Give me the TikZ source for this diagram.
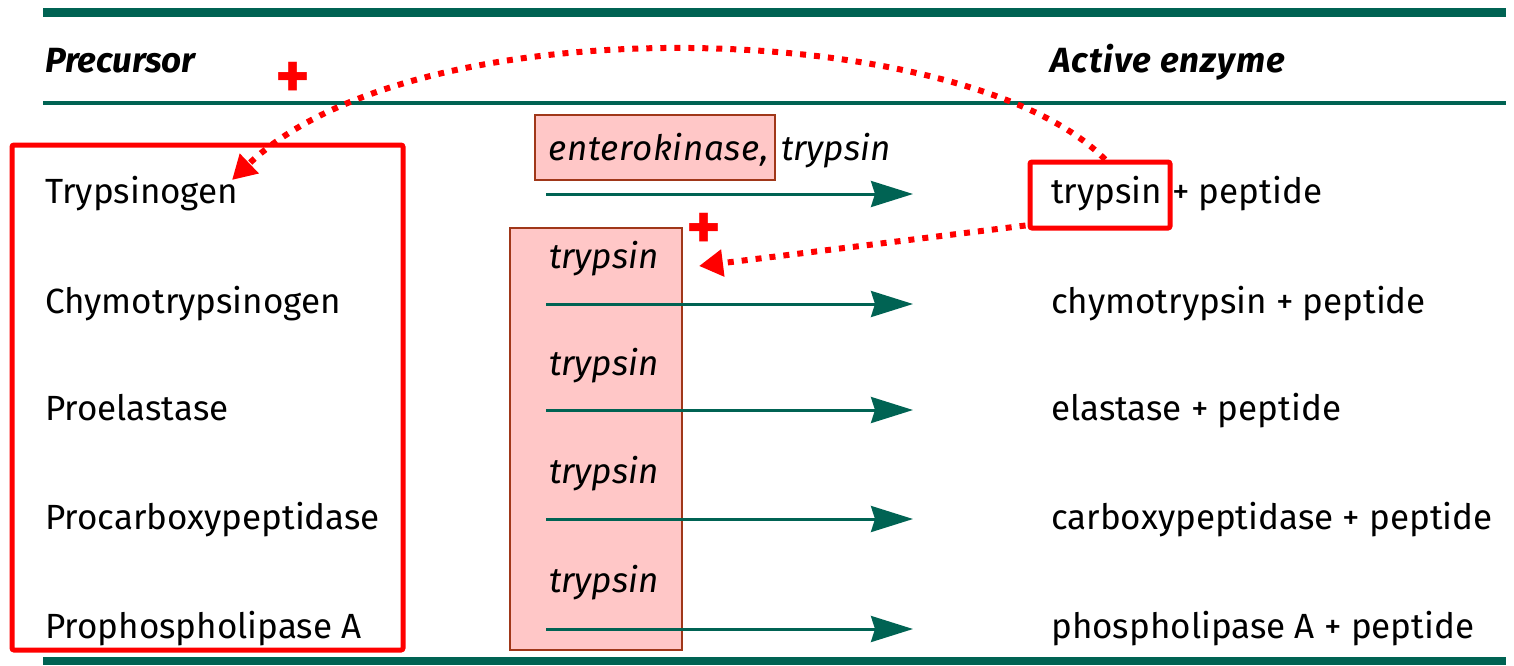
\documentclass[tikz,border=0pt]{standalone}
\usepackage{fontspec}
\setmainfont{Fira Sans}
\usetikzlibrary{arrows.meta}
\definecolor{teal}{RGB}{0,99,83}
\definecolor{pinkfill}{RGB}{255,199,199}
\definecolor{brownline}{RGB}{160,55,25}
\definecolor{redline}{RGB}{255,0,0}
\tikzset{
  txt/.style={anchor=base west, inner sep=0pt, font=\fontsize{35}{40}\selectfont},
  itxt/.style={anchor=base west, inner sep=0pt, font=\fontsize{35}{40}\selectfont\itshape},
  head/.style={anchor=base west, inner sep=0pt, font=\fontsize{35}{40}\selectfont\bfseries\itshape},
  rule/.style={draw=teal, line width=#1},
  react/.style={draw=teal, line width=3pt, -{Stealth[length=42pt,width=26pt,inset=4pt]}},
  pinkbox/.style={draw=brownline, fill=pinkfill, line width=2.5pt, inner sep=0pt},
  redbox/.style={draw=redline, line width=5pt, rounded corners=2pt, inner sep=0pt},
  reddots/.style={draw=redline, line width=6pt, dash pattern=on 6pt off 8pt, -{Triangle[length=24pt,width=26pt]}},
  plus/.style={text=redline, inner sep=0pt, font=\fontsize{66}{66}\selectfont\bfseries},
}
\begin{document}
\begin{tikzpicture}[x=1pt,y=-1pt]
\useasboundingbox (0,0) rectangle (1514,665);
% rules
\draw[rule=9pt] (43,12.5) -- (1506,12.5);
\draw[rule=4pt] (43,103) -- (1506,103);
\draw[rule=8pt] (43,661) -- (1506,661);
% headers
\node[head] (hp) at (45,72) {Precursor};
\node[head] (ha) at (1050,72) {\addfontfeatures{LetterSpace=3}Active enzyme};
% big red box
\node[redbox, minimum width=391pt, minimum height=505pt] (rbox) at (207.5,397.5) {};
% pink boxes
\node[pinkbox, minimum width=240pt, minimum height=65pt] (ek) at (655,147.5) {};
\node[itxt] (ekt) at (548,160) {\addfontfeatures{LetterSpace=2}enterokinase,};
\node[itxt] (tr0) at (781,160) {trypsin};
\node[pinkbox, minimum width=172pt, minimum height=422pt] (tbox) at (596,439) {};
\node[itxt] (tr2) at (549,268) {trypsin};
\node[itxt] (tr3) at (549,375) {trypsin};
\node[itxt] (tr4) at (549,483) {trypsin};
\node[itxt] (tr5) at (549,592) {trypsin};
% precursors
\node[txt] (p1) at (45,203) {Trypsinogen};
\node[txt] (p2) at (45,313) {Chymotrypsinogen};
\node[txt] (p3) at (45,420) {Proelastase};
\node[txt] (p4) at (45,529) {Procarboxypeptidase};
\node[txt] (p5) at (45,638) {Prophospholipase A};
% products
\node[redbox, minimum width=140pt, minimum height=66pt] (et) at (1100,195) {};
\node[txt] (e1a) at (1051,203) {trypsin};
\node[txt] (e1b) at (1172,203) {+ peptide};
\node[txt] (e2) at (1051,313) {chymotrypsin + peptide};
\node[txt] (e3) at (1051,420) {elastase + peptide};
\node[txt] (e4) at (1051,529) {carboxypeptidase + peptide};
\node[txt] (e5) at (1051,638) {phospholipase A + peptide};
% reaction arrows
\foreach \i/\y in {1/194,2/304,3/410,4/519,5/629}{
  \coordinate (s\i) at (546,\y);
  \coordinate (t\i) at (913,\y);
  \draw[react] (s\i) -- (t\i);
}
% plus signs
\node[plus] (plus1) at (293,80) {+};
\node[plus] (plus2) at (704,231) {+};
% feedback arrows
\coordinate (tipA) at (232,180);
\coordinate (tipB) at (699,266);
\draw[reddots] ([xshift=5pt]et.north) .. controls (970,20) and (420,0) .. (tipA);
\draw[reddots] ([shift={(-2pt,5pt)}]et.south west) -- (tipB);
\end{tikzpicture}
\end{document}
